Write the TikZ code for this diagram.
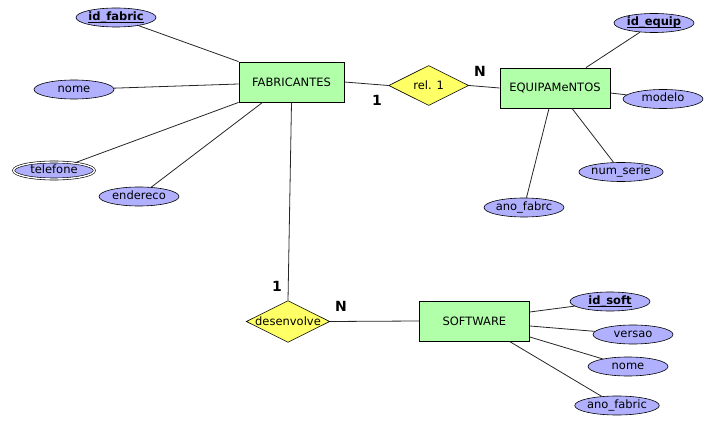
\documentclass[tikz,border=0pt]{standalone}
\usepackage{fontspec}
\setmainfont{DejaVu Sans}
\usetikzlibrary{positioning, shapes.geometric}

\definecolor{entgreen}{RGB}{178,255,170}
\definecolor{attblue}{RGB}{176,176,255}
\definecolor{relyellow}{RGB}{255,255,102}

\newcommand{\keyattr}[1]{\underline{\smash{#1}}}

\begin{document}
\begin{tikzpicture}[
  x=1pt, y=-1pt,
  font=\fontsize{11.5}{13}\selectfont,
  entity/.style={draw, fill=entgreen, minimum height=40pt, minimum width=110pt,
                 inner sep=0pt, line width=0.8pt},
  attr/.style={draw, ellipse, fill=attblue, minimum width=80pt, minimum height=19pt,
               inner sep=0pt, text height=8.5pt, text depth=2.5pt, line width=0.6pt},
  key/.style={attr, font=\fontsize{11.5}{13}\selectfont\bfseries},
  multi/.style={attr, double, double distance=1.4pt, minimum width=81pt, minimum height=17pt},
  rel/.style={draw, diamond, aspect=2, fill=relyellow, minimum width=80pt, minimum height=40pt,
              inner sep=0pt, line width=0.6pt},
  card/.style={font=\fontsize{14}{16}\selectfont\bfseries},
  ln/.style={line width=0.8pt, black!85}
]
\useasboundingbox (0,0) rectangle (723,435);

% entidades
\node[entity, minimum width=105pt] (fab) at (291.5,82) {FABRICANTES};
\node[rel, right=44pt of fab, yshift=-3.5pt] (rel1) {rel. 1};
\node[entity] (equip) at (555,88) {EQUIPAMeNTOS};
\node[rel] (desenv) at (288,321.5) {desenvolve};
\node[entity, right=89pt of desenv, yshift=0.5pt] (soft) {SOFTWARE};

% atributos de FABRICANTES
\node[key] (idfab) at (116,17.5) {\keyattr{id\_fabric}};
\node[attr] (nomefab) at (74,89.5) {nome};
\node[multi] (tel) at (54,170.5) {telefone};
\node[attr] (ender) at (139,196.5) {endereco};

% atributos de EQUIPAMeNTOS
\node[key] (idequip) at (654,23) {\keyattr{id\_equip}};
\node[attr] (modelo) at (663,99) {modelo};
\node[attr] (numserie) at (621,172) {num\_serie};
\node[attr] (anofabrc) at (524,207.5) {ano\_fabrc};

% atributos de SOFTWARE
\node[key] (idsoft) at (610,301.5) {\keyattr{id\_soft}};
\node[attr] (versao) at (633,334.5) {versao};
\node[attr] (nomesoft) at (628,366.5) {nome};
\node[attr] (anofabric) at (617,405.5) {ano\_fabric};

% cardinalidades
\node[card] (c1) at (377,100.5) {1};
\node[card] (cn) at (480,71.5) {N};
\node[card] (c2) at (277,286.5) {1};
\node[card] (cn2) at (341,306) {N};

\draw[ln] (idfab) -- (fab.north west);
\draw[ln] (nomefab) -- ([yshift=-2pt]fab.west);
\draw[ln] (tel) -- (fab.south west);
\draw[ln] (ender) -- ([xshift=24pt]fab.south west);
\draw[ln] (fab.east) -- (rel1.west);
\draw[ln] (rel1.east) -- (equip.west);
\draw[ln] (fab.south) -- (desenv.north);
\draw[ln] (desenv.east) -- (soft.west);

\draw[ln] (idequip) -- ([xshift=31pt]equip.north);
\draw[ln] (modelo) -- ([yshift=-5pt]equip.east);
\draw[ln] (numserie) -- ([xshift=17pt]equip.south);
\draw[ln] (anofabrc) -- ([xshift=-6pt]equip.south);

\draw[ln] (idsoft) -- ([yshift=9pt]soft.east);
\draw[ln] (versao) -- ([yshift=-5pt]soft.east);
\draw[ln] (nomesoft) -- ([yshift=-16pt]soft.east);
\draw[ln] (anofabric) -- ([xshift=35pt]soft.south);
\end{tikzpicture}
\end{document}
